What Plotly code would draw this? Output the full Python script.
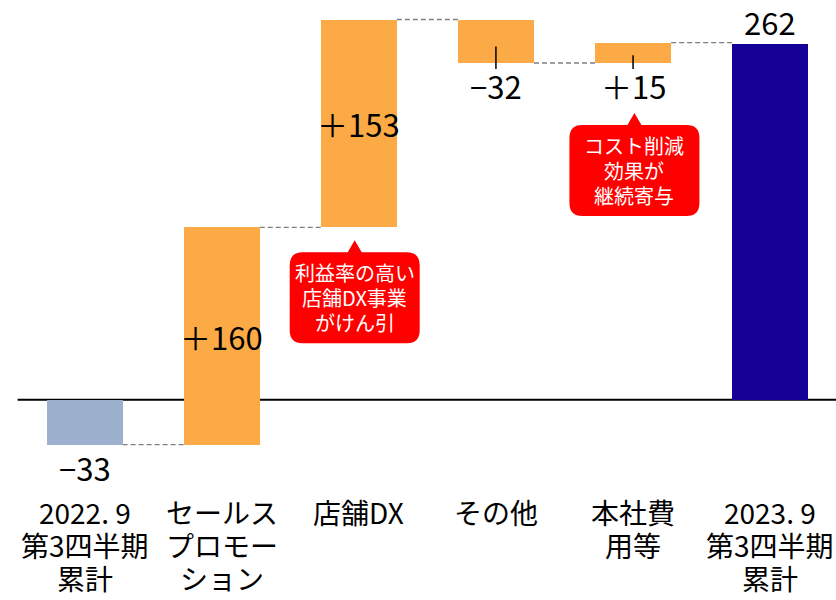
import plotly.graph_objects as go

# ---- data -------------------------------------------------------------
category_lines = [
    ["2022. 9", "第3四半期", "累計"],
    ["セールス", "プロモー", "ション"],
    ["店舗DX"],
    ["その他"],
    ["本社費", "用等"],
    ["2023. 9", "第3四半期", "累計"],
]
values = [-33, 160, 153, -32, 15, 262]
measures = ["absolute", "relative", "relative", "relative", "relative", "absolute"]
value_labels = ["−33", "＋160", "＋153", "−32", "＋15", "262"]
label_places = ["below", "inside", "inside", "below", "below", "above"]
bar_colors = ["#9DB0CE", "#FBAA45", "#FBAA45", "#FBAA45", "#FBAA45", "#150095"]
callouts = [
    {"bar": 2, "lines": ["利益率の高い", "店舗DX事業", "がけん引"]},
    {"bar": 4, "lines": ["コスト削減", "効果が", "継続寄与"]},
]

# ---- layout constants ---------------------------------------------------
W, H = 836, 600
M_L, M_R, M_T, M_B = 16, 0, 10, 120
X_RANGE = [-0.5, 5.48]
Y_RANGE = [-59, 287]
BAR_W = 0.555
JP_FONT = "Noto Sans CJK JP, sans-serif"

plot_w = W - M_L - M_R
plot_h = H - M_T - M_B
x_scale = plot_w / (X_RANGE[1] - X_RANGE[0])   # px per category step
y_scale = plot_h / (Y_RANGE[1] - Y_RANGE[0])   # px per unit


def px_dx(px):
    return px / x_scale


def px_dy(px):
    return px / y_scale


# ---- waterfall geometry from the values ---------------------------------
bases, ends = [], []
running = 0
for v, m in zip(values, measures):
    if m == "absolute":
        bases.append(0)
        running = v
    else:
        bases.append(running)
        running += v
    ends.append(running)

xs = list(range(len(values)))

fig = go.Figure()
fig.add_trace(go.Bar(
    x=xs, y=values, base=bases, width=BAR_W,
    marker=dict(color=bar_colors, line=dict(width=0)),
    hoverinfo="skip", showlegend=False,
))

shapes = []
# zero line
shapes.append(dict(type="line", xref="paper", yref="y", x0=0.002, x1=1, y0=0, y1=0,
                   line=dict(color="black", width=2), layer="below"))
# dashed connectors between consecutive bars
for i in range(len(values) - 1):
    lvl = ends[i]
    shapes.append(dict(type="line", xref="x", yref="y",
                       x0=i + BAR_W / 2, x1=i + 1 - BAR_W / 2, y0=lvl, y1=lvl,
                       line=dict(color="#808080", width=1.3, dash="5px,3px"), layer="below"))

annotations = []
# value labels
for i, (b, v, txt, place) in enumerate(zip(bases, values, value_labels, label_places)):
    lo, hi = min(b, b + v), max(b, b + v)
    if place == "inside":
        y, shift = (lo + hi) / 2, 0
    elif place == "below":
        y, shift = lo, -23
    else:
        y, shift = hi, 22
    annotations.append(dict(x=i, y=y, xref="x", yref="y", text=txt, showarrow=False,
                            yshift=shift, xanchor="center", yanchor="middle",
                            font=dict(family=JP_FONT, size=31, color="black")))
    # short leader tick from inside small step bars down to the label
    if place == "below" and measures[i] == "relative":
        shapes.append(dict(type="line", xref="x", yref="y", x0=i, x1=i,
                           y0=lo + 0.38 * (hi - lo), y1=lo - px_dy(6),
                           line=dict(color="black", width=1.5)))

# category labels under the axis
for i, lines in enumerate(category_lines):
    for k, line in enumerate(lines):
        annotations.append(dict(x=i, y=0, xref="x", yref="paper", text=line, showarrow=False,
                                xanchor="center", yanchor="middle", yshift=-32 - 33 * k,
                                font=dict(family=JP_FONT, size=28, color="black")))


# red speech-bubble callouts
def bubble(tip_x, tip_y, box_w=130, box_h=91, gap=12, half_base=7, r=13):
    left, right = tip_x - px_dx(box_w / 2), tip_x + px_dx(box_w / 2)
    top = tip_y - px_dy(gap)
    bottom = top - px_dy(box_h)
    rx, ry = px_dx(r), px_dy(r)
    pts = [
        f"M{left + rx},{top}",
        f"L{tip_x - px_dx(half_base)},{top}",
        f"L{tip_x},{tip_y}",
        f"L{tip_x + px_dx(half_base)},{top}",
        f"L{right - rx},{top}",
        f"Q{right},{top} {right},{top - ry}",
        f"L{right},{bottom + ry}",
        f"Q{right},{bottom} {right - rx},{bottom}",
        f"L{left + rx},{bottom}",
        f"Q{left},{bottom} {left},{bottom + ry}",
        f"L{left},{top - ry}",
        f"Q{left},{top} {left + rx},{top}",
        "Z",
    ]
    return " ".join(pts), (top + bottom) / 2


tips = [
    (callouts[0]["bar"] - 0.03, min(bases[2], ends[2]) - px_dy(13)),
    (callouts[1]["bar"] + 0.01, min(bases[4], ends[4]) - px_dy(50)),
]
LINE_STEP = 25
for c, (tx, ty) in zip(callouts, tips):
    path, cy = bubble(tx, ty)
    shapes.append(dict(type="path", xref="x", yref="y", path=path,
                       fillcolor="#FF0000", line=dict(width=0), layer="above"))
    n = len(c["lines"])
    for k, line in enumerate(c["lines"]):
        annotations.append(dict(x=tx, y=cy, xref="x", yref="y", text=line, showarrow=False,
                                xanchor="center", yanchor="middle",
                                yshift=((n - 1) / 2 - k) * LINE_STEP,
                                font=dict(family=JP_FONT, size=20, color="white")))

fig.update_layout(
    width=W, height=H,
    margin=dict(l=M_L, r=M_R, t=M_T, b=M_B, pad=0),
    paper_bgcolor="white", plot_bgcolor="white",
    bargap=0,
    xaxis=dict(range=X_RANGE, visible=False, fixedrange=True),
    yaxis=dict(range=Y_RANGE, visible=False, fixedrange=True, zeroline=False),
    shapes=shapes, annotations=annotations,
    showlegend=False,
)

fig.write_html("out.html")
